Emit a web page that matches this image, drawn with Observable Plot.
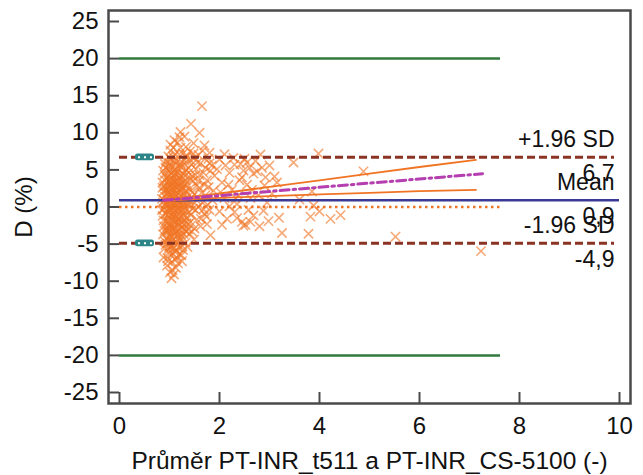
<!DOCTYPE html>
<html><head><meta charset="utf-8">
<script src="https://cdn.jsdelivr.net/npm/d3@7"></script>
<script src="https://cdn.jsdelivr.net/npm/@observablehq/plot@0.6"></script>
<style>body{margin:0;background:#fff;}</style>
</head><body><div id="chart"></div>
<script>
// Tick labels
const xTicks = [0, 2, 4, 6, 8, 10];
const yTicks = [-25, -20, -15, -10, -5, 0, 5, 10, 15, 20, 25];
const xTitle = "Průměr PT-INR_t511 a PT-INR_CS-5100 (-)";
const yTitle = "D (%)";

// Bland-Altman statistics
const limitNames = ["+1.96 SD", "Mean", "-1.96 SD"];
const limitValues = [6.7, 0.9, -4.9];
const limitText = ["6,7", "0,9", "-4,9"];
const limitCILow = [6.25, 0.65, -5.35];
const limitCIHigh = [7.15, 1.15, -4.45];
const acceptLimits = [20, -20];

// Regression of differences and its confidence band
const regX = [0.88, 7.26];
const regY = [0.91, 4.48];
const bandX = [0.9, 1.2, 1.6, 2.0, 3.0, 4.0, 5.0, 6.0, 7.13];
const bandUpper = [1.07, 1.23, 1.5, 1.82, 2.7, 3.59, 4.5, 5.39, 6.36];
const bandLower = [0.75, 0.93, 1.1, 1.22, 1.46, 1.69, 1.9, 2.13, 2.32];

// Measurements: [average INR, difference %]
const pairs = [
[0.86,-1.2],[0.87,0.6],[0.88,2.1],[0.86,3.3],[0.89,-2.6],[0.9,4.4],[0.88,-0.3],[0.91,1.4],[0.87,-3.7],[0.92,5.3],[0.9,-4.6],[0.89,2.8],[0.93,-1.9],[0.92,0.1],[0.94,3.9],[0.85,1.1],[0.9,-5.6],[0.93,6.2],[0.88,-6.8],[0.94,-3.1],
[0.95,-7.9],[0.96,-6.9],[0.97,-5.8],[0.95,-4.9],[0.98,-4.1],[0.96,-3.3],[0.99,-2.4],[0.97,-1.6],[1.0,-0.8],[0.96,0.3],[0.99,1.0],[0.97,1.9],[1.0,2.6],[0.98,3.5],[1.01,4.3],[0.96,5.1],[1.0,5.9],[0.98,6.8],[1.02,7.6],[1.01,-8.8],[0.99,-0.1],[1.02,-3.7],[1.03,1.5],[1.01,3.0],[0.95,2.3],[1.03,-5.3],[1.02,8.4],[0.97,-2.0],[1.03,-1.1],[1.0,4.8],
[1.04,-9.6],[1.06,-8.5],[1.05,-7.4],[1.07,-6.3],[1.08,-5.5],[1.05,-4.6],[1.09,-3.8],[1.06,-2.9],[1.1,-2.1],[1.07,-1.3],[1.11,-0.5],[1.05,0.4],[1.09,1.2],[1.06,2.0],[1.1,2.8],[1.07,3.7],[1.11,4.5],[1.05,5.4],[1.09,6.2],[1.12,7.1],[1.08,8.0],[1.1,9.0],[1.06,-0.2],[1.12,0.8],[1.04,1.7],[1.12,-3.4],[1.11,-7.0],[1.09,-9.1],[1.04,3.1],[1.12,5.8],[1.08,-4.3],[1.07,6.8],
[1.13,-8.2],[1.15,-6.9],[1.14,-5.9],[1.16,-5.0],[1.18,-4.2],[1.15,-3.3],[1.19,-2.5],[1.16,-1.7],[1.2,-0.9],[1.17,-0.1],[1.21,0.7],[1.14,1.5],[1.18,2.3],[1.15,3.1],[1.2,3.9],[1.17,4.7],[1.21,5.5],[1.14,6.3],[1.19,7.1],[1.22,8.0],[1.2,9.4],[1.22,10.1],[1.16,8.7],[1.13,-2.0],[1.22,-3.7],[1.18,1.1],[1.2,-6.4],[1.13,4.3],[1.22,2.0],[1.17,-7.6],
[1.24,-6.5],[1.26,-5.3],[1.23,-4.4],[1.28,-3.6],[1.25,-2.7],[1.3,-1.8],[1.27,-0.9],[1.31,0.0],[1.24,0.9],[1.29,1.8],[1.26,2.7],[1.32,3.6],[1.28,4.5],[1.24,5.4],[1.3,6.3],[1.27,7.2],[1.33,8.1],[1.3,9.5],[1.34,-2.2],[1.33,2.2],[1.25,-7.3],[1.34,5.0],[1.23,3.2],[1.32,-4.8],
[1.36,-5.4],[1.4,-3.6],[1.38,-2.3],[1.43,-1.1],[1.37,0.2],[1.45,1.3],[1.4,2.4],[1.47,3.5],[1.38,4.6],[1.44,5.7],[1.5,6.6],[1.41,7.5],[1.48,8.6],[1.43,11.2],[1.52,-0.4],[1.54,2.9],[1.5,-2.9],[1.46,4.1],[1.53,5.1],[1.55,0.9],[1.35,6.9],[1.49,-4.4],
[1.6,10.0],[1.65,13.6],[1.7,8.3],[1.58,7.0],[1.62,5.9],[1.68,4.6],[1.75,3.6],[1.6,2.6],[1.72,1.6],[1.66,0.6],[1.8,-0.4],[1.63,-1.6],[1.75,-2.3],[1.82,-3.8],[1.85,5.6],[1.78,6.5],[1.88,2.2],[1.9,4.2],[1.7,-0.9],[1.86,0.9],[1.58,3.5],[1.8,7.3],[1.82,4.9],
[1.95,5.1],[2.0,6.4],[2.05,3.3],[2.1,1.2],[2.0,-0.6],[2.15,-1.6],[2.2,4.6],[2.3,5.7],[2.25,2.3],[2.35,0.4],[2.4,3.6],[2.45,-2.0],[2.48,4.9],[2.1,7.1],[2.3,-0.7],[2.38,1.5],[2.2,0.1],[2.05,-2.4],[2.5,6.5],[2.42,5.8],[2.48,-2.5],
[2.52,-2.4],[2.68,-1.15],[2.8,-2.6],[2.82,7.07],[2.6,5.3],[2.68,4.5],[2.75,4.8],[2.9,2.9],[2.95,0.6],[3.0,5.6],[2.62,1.2],[2.88,-0.5],[3.15,3.3],[3.19,-1.46],[3.25,-3.5],[3.05,1.8],[2.55,3.0],[3.1,4.1],[2.72,6.2],[2.98,-1.9],
[3.48,6.0],[3.78,-3.6],[3.82,-1.3],[3.85,2.1],[3.98,7.2],[4.0,-0.6],[4.22,-1.6],[4.42,-1.1],[3.88,0.2],[4.88,4.8],[5.52,-4.0],[7.23,-5.95],[3.6,1.0],
[0.85,-0.4],[0.86,2.6],[0.87,4.9],[0.88,-1.8],[0.89,0.9],[0.9,-3.2],[0.91,3.6],[0.92,-0.9],[0.93,1.8],[0.94,-4.2],[0.92,-5.1],[0.91,5.8],[0.93,0.5],[0.94,2.4],[0.95,-2.7],[0.95,4.0],[0.96,-0.5],[0.96,-4.5],[0.97,0.8],[0.97,3.0],[0.97,-7.3],[0.98,-1.2],[0.98,5.5],[0.99,-3.0],[0.99,2.1],[0.99,-5.4],[1.0,0.4],[1.0,-6.3],[1.01,1.6],[1.01,-2.4],[1.02,3.8],[1.02,-0.4],[1.03,6.4],[1.03,-4.0],[1.04,0.0],[1.04,-1.7],[1.04,4.6],[1.05,-3.2],[1.05,2.5],[1.06,1.1],[1.06,-5.1],[1.07,-0.8],[1.07,4.2],[1.08,0.3],[1.08,-2.5],[1.08,2.4],[1.09,-1.0],[1.09,3.4],[1.1,-6.0],[1.1,0.5],[1.1,5.0],[1.11,1.8],[1.11,-2.8],[1.12,-1.5],[1.12,3.4],[1.13,0.2],[1.13,-4.8],[1.14,-1.2],[1.14,2.7],[1.15,0.8],[1.15,5.2],[1.16,-3.8],[1.16,1.9],[1.17,-2.2],[1.17,3.5],[1.18,-0.5],[1.18,-5.5],[1.19,0.4],[1.19,4.2],[1.2,-1.5],[1.2,2.8],[1.21,-3.1],[1.21,1.5],[1.22,-0.3],[1.22,5.9],[1.23,-1.3],[1.23,2.4],[1.24,-2.0],[1.24,4.1],[1.25,0.2],[1.25,-4.0],[1.26,1.4],[1.26,-0.4],[1.27,3.3],[1.27,-5.8],[1.28,0.6],[1.28,-2.3],[1.29,-1.2],[1.29,5.8],[1.3,2.9],[1.3,-3.0],[1.31,1.1],[1.31,4.2],[1.32,-0.6],[1.33,-3.3],[1.33,6.7],[1.34,0.5],[1.35,-1.4],[1.35,3.0],[1.36,1.8],[1.37,-3.0],[1.38,5.3],[1.39,-0.7],[1.4,0.9],[1.41,3.9],[1.42,-2.0],[1.42,6.3],[1.44,0.4],[1.45,-3.3],[1.46,2.0],[1.47,-0.2],[1.48,7.2],[1.5,1.7],[1.52,4.3],[1.55,-1.7],[1.56,6.0],[1.58,0.0],[1.6,4.3],[1.62,-2.6],[1.64,1.9],[1.66,7.6],[1.68,-0.3],[1.7,3.0],[1.72,5.3],[1.74,-1.3],[1.76,0.3],[1.78,2.7],[1.8,5.9],
[2.02,2.0],[2.12,5.6],[2.18,3.0],[2.28,6.6],[2.32,1.2],[2.45,4.0],[2.55,6.0],[2.58,-0.4],[2.65,2.3],[2.78,1.6],[2.85,5.3],[2.92,4.0],[2.35,-1.5],[2.62,-2.0]
];

const orange = "#f07424";
const chart = Plot.plot({
  width: 643, height: 475,
  marginLeft: 108, marginRight: 13, marginTop: 10, marginBottom: 72,
  inset: 11,
  style: {fontFamily: "'Liberation Sans', Arial, sans-serif", fontSize: "24px", color: "#111", background: "#fff"},
  x: {domain: [0, 10]},
  y: {domain: [-25, 25]},
  marks: [
    Plot.frame({stroke: "#4a4a4a", strokeWidth: 2.5}),
    Plot.axisX({ticks: xTicks, tickFormat: d => String(d), tickSize: -11, tickPadding: 24, stroke: "#4a4a4a", strokeWidth: 2, fontSize: 24, label: null}),
    Plot.axisX({ticks: [], label: xTitle, labelAnchor: "center", labelArrow: "none", labelOffset: 65, fontSize: 24.5}),
    Plot.axisY({ticks: yTicks, tickFormat: d => String(d), tickSize: -11, tickPadding: 21, stroke: "#4a4a4a", strokeWidth: 2, fontSize: 24, label: null}),
    Plot.axisY({ticks: [], label: yTitle, labelAnchor: "center", labelArrow: "none", labelOffset: 94, fontSize: 24}),
    Plot.ruleY(acceptLimits, {x1: 0, x2: 7.62, stroke: "#2f7a3c", strokeWidth: 2.5}),
    Plot.ruleY([0], {x1: 0, x2: 7.62, stroke: orange, strokeWidth: 2.5, strokeDasharray: "2.5,3.5"}),
    Plot.dot(pairs, {x: d => d[0], y: d => d[1], symbol: "times", r: 4.3, stroke: orange, strokeOpacity: 0.62, strokeWidth: 1.6}),
    Plot.ruleY([limitValues[0], limitValues[2]], {x1: 0, x2: 9.9, stroke: "#8a3324", strokeWidth: 3, strokeDasharray: "8,4"}),
    Plot.rect([0, 2], {x1: 0.32, x2: 0.7, y1: i => limitCILow[i], y2: i => limitCIHigh[i], fill: "#2e8587", rx: 2.5}),
    Plot.ruleY([limitValues[0], limitValues[2]], {x1: 0.38, x2: 0.66, stroke: "#fff", strokeWidth: 2, strokeDasharray: "2,4"}),
    Plot.rect([1], {x1: 0.32, x2: 0.7, y1: i => limitCILow[i] + 0.15, y2: i => limitCIHigh[i] - 0.15, fill: "#2e8587", rx: 2}),
    Plot.ruleY([limitValues[1]], {x1: 0, x2: 10, stroke: "#3a3a96", strokeWidth: 2.5}),
    Plot.line(bandX, {x: d => d, y: (d, i) => bandUpper[i], stroke: orange, strokeWidth: 1.8}),
    Plot.line(bandX, {x: d => d, y: (d, i) => bandLower[i], stroke: orange, strokeWidth: 1.8}),
    Plot.line(regX, {x: d => d, y: (d, i) => regY[i], stroke: "#b53fb0", strokeWidth: 3, strokeDasharray: "9,4,2.5,4"}),
    Plot.text(limitNames, {x: 9.9, y: (d, i) => limitValues[i], text: d => d, textAnchor: "end", dy: -18, fontSize: 23, fill: "#111"}),
    Plot.text(limitText, {x: 9.9, y: (d, i) => limitValues[i], text: d => d, textAnchor: "end", dy: 16, fontSize: 23, fill: "#111"})
  ]
});
document.getElementById("chart").appendChild(chart);
</script></body></html>
